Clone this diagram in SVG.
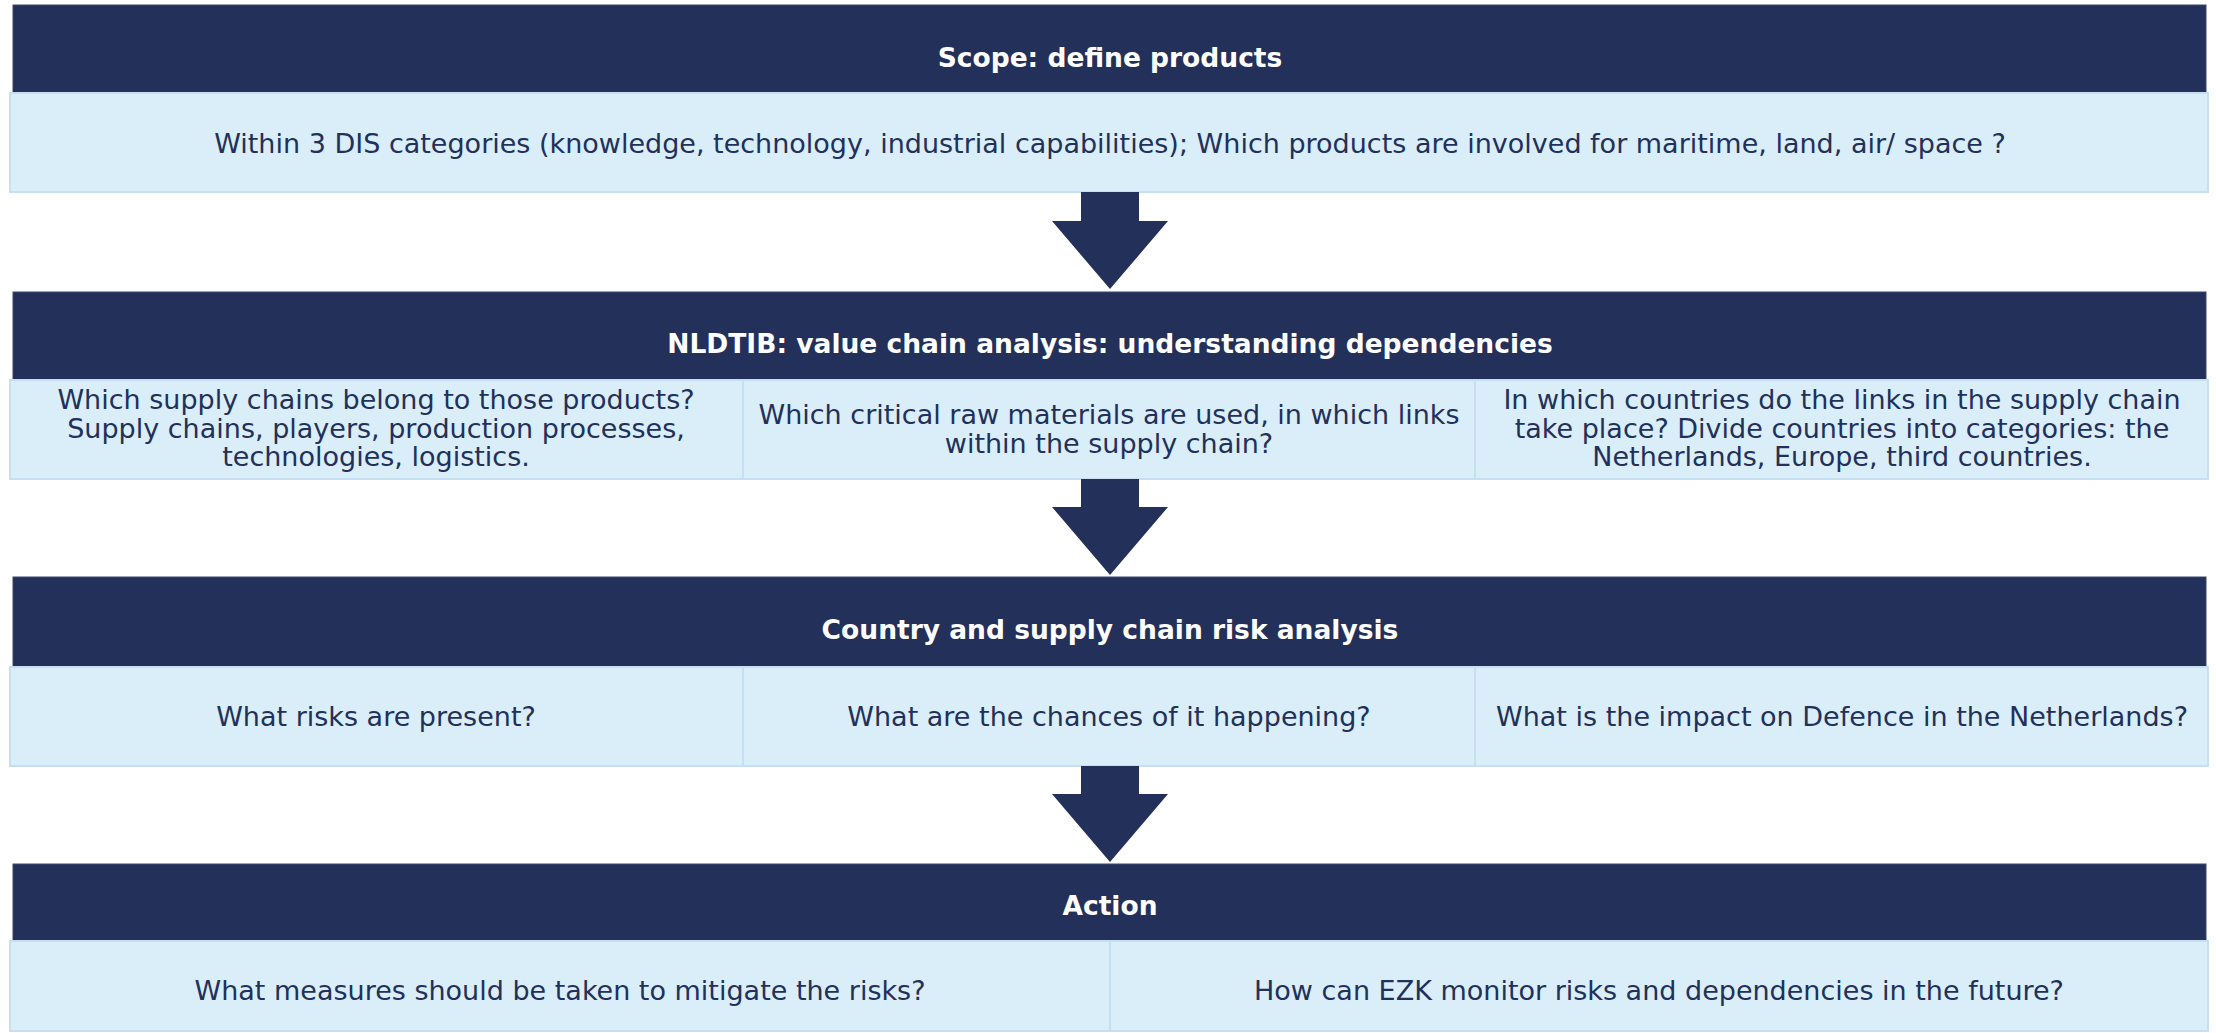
<svg xmlns="http://www.w3.org/2000/svg" width="2216" height="1033" viewBox="0 0 2216 1033">
<style>
.hdr{fill:#22305a;stroke:#3a4870;stroke-width:1}
.body{fill:#d9eef9;stroke:#c6e0f2;stroke-width:2}
.div{stroke:#c6e0f2;stroke-width:2}
.ht{font-family:"DejaVu Sans",Verdana,sans-serif;font-size:26.5px;font-weight:bold;fill:#ffffff;text-anchor:middle}
.bt{font-family:"DejaVu Sans",Verdana,sans-serif;font-size:27px;fill:#22305a;text-anchor:middle}
.arr{fill:#22305a}
</style>
<rect width="2216" height="1033" fill="#ffffff"/>
<g id="step1">
<rect class="hdr" x="13" y="5" width="2193" height="88"/>
<text class="ht" x="1110" y="67">Scope: define products</text>
</g>
<g id="step1-body">
<rect class="body" x="10" y="93" width="2198" height="99"/>
<text class="bt" x="1110" y="153">Within 3 DIS categories (knowledge, technology, industrial capabilities); Which products are involved for maritime, land, air/ space ?</text>
</g>
<g id="step2">
<rect class="hdr" x="13" y="292" width="2193" height="88"/>
<text class="ht" x="1110" y="353">NLDTIB: value chain analysis: understanding dependencies</text>
</g>
<g id="step2-body">
<rect class="body" x="10" y="380" width="2198" height="99"/>
<line class="div" x1="743" y1="380" x2="743" y2="479"/>
<line class="div" x1="1475" y1="380" x2="1475" y2="479"/>
<text class="bt" x="376" y="409">Which supply chains belong to those products?</text>
<text class="bt" x="376" y="437.5">Supply chains, players, production processes,</text>
<text class="bt" x="376" y="466">technologies, logistics.</text>
<text class="bt" x="1109" y="424">Which critical raw materials are used, in which links</text>
<text class="bt" x="1109" y="452.5">within the supply chain?</text>
<text class="bt" x="1842" y="409">In which countries do the links in the supply chain</text>
<text class="bt" x="1842" y="437.5">take place? Divide countries into categories: the</text>
<text class="bt" x="1842" y="466">Netherlands, Europe, third countries.</text>
</g>
<g id="step3">
<rect class="hdr" x="13" y="577" width="2193" height="90"/>
<text class="ht" x="1110" y="639">Country and supply chain risk analysis</text>
</g>
<g id="step3-body">
<rect class="body" x="10" y="667" width="2198" height="99"/>
<line class="div" x1="743" y1="667" x2="743" y2="766"/>
<line class="div" x1="1475" y1="667" x2="1475" y2="766"/>
<text class="bt" x="376" y="726">What risks are present?</text>
<text class="bt" x="1109" y="726">What are the chances of it happening?</text>
<text class="bt" x="1842" y="726">What is the impact on Defence in the Netherlands?</text>
</g>
<g id="step4">
<rect class="hdr" x="13" y="864" width="2193" height="77"/>
<text class="ht" x="1110" y="915">Action</text>
</g>
<g id="step4-body">
<rect class="body" x="10" y="941" width="2198" height="90"/>
<line class="div" x1="1110" y1="941" x2="1110" y2="1031"/>
<text class="bt" x="560" y="1000">What measures should be taken to mitigate the risks?</text>
<text class="bt" x="1659" y="1000">How can EZK monitor risks and dependencies in the future?</text>
</g>
<g id="connectors">
<polygon class="arr" points="1081,192 1139,192 1139,221 1168,221 1110,289 1052,221 1081,221"/>
<polygon class="arr" points="1081,479 1139,479 1139,507 1168,507 1110,575 1052,507 1081,507"/>
<polygon class="arr" points="1081,766 1139,766 1139,794 1168,794 1110,862 1052,794 1081,794"/>
</g>
</svg>
